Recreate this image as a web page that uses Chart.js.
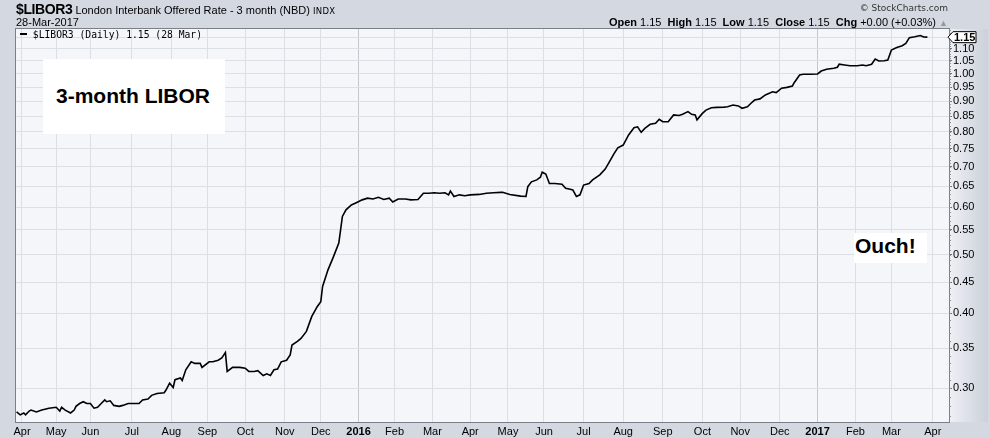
<!DOCTYPE html>
<html>
<head>
<meta charset="utf-8">
<script src="https://cdn.jsdelivr.net/npm/chart.js@4.4.1/dist/chart.umd.min.js"></script>
<style>
  html, body { margin: 0; padding: 0; background: #d4d9e1; }
  #wrap { position: relative; width: 990px; height: 438px; overflow: hidden; }
  #wrap div { position: absolute; white-space: nowrap; color: #000; font-family: "Liberation Sans", Arial, sans-serif; line-height: 1; }
  .box { background: #fff; }
</style>
</head>
<body>
<div id="wrap">
  <canvas id="liborChart"></canvas>
  <div style="left:16px;top:1.5px;font-size:11px"><b style="font-size:14px;letter-spacing:-0.4px">$LIBOR3</b> London Interbank Offered Rate - 3 month (NBD) <span style="font-family:'DejaVu Sans';font-size:8.5px;letter-spacing:0.3px">INDX</span></div>
  <div style="left:16px;top:16.7px;font-size:11px">28-Mar-2017</div>
  <div style="right:42px;top:4px;font-family:'DejaVu Sans';font-size:9px;color:#333">&#169; StockCharts.com</div>
  <div style="right:42px;top:17.4px;font-size:11px"><b>Open</b> 1.15 &nbsp;<b>High</b> 1.15 &nbsp;<b>Low</b> 1.15 &nbsp;<b>Close</b> 1.15 &nbsp;<b>Chg</b> +0.00 (+0.03%) <span style="color:#999;font-size:9px">&#9650;</span></div>
  <div style="left:20px;top:29.5px;font-family:'DejaVu Sans Mono';font-size:9.7px"><b style="display:inline-block;width:7px;height:2px;background:#000;vertical-align:3px"></b> $LIBOR3 (Daily) 1.15 (28 Mar)</div>
  <div class="box" style="left:43px;top:59px;width:182px;height:75px"></div>
  <div style="left:56px;top:84.5px;font-size:21px;font-weight:bold">3-month LIBOR</div>
  <div class="box" style="left:854px;top:233px;width:73px;height:30px"></div>
  <div style="left:855px;top:234.5px;font-size:21px;font-weight:bold">Ouch!</div>
</div>
<script>
// trading-day index (0 = 1 Apr 2015) and 3-month LIBOR fixings
const days = [-3, -1, 1, 2, 4, 5, 8, 11, 15, 19, 21, 22, 24, 27, 29, 30, 32, 34, 36, 38,
  40, 42, 44, 46, 47, 49, 51, 54, 56, 59, 62, 65, 67, 70, 72, 75, 79, 80, 82, 84,
  85, 88, 89, 91, 94, 96, 99, 100, 104, 106, 109, 111, 113, 114, 117, 121, 124, 126, 129, 131,
  134, 136, 138, 140, 142, 144, 147, 149, 150, 153, 155, 158, 161, 164, 166, 167, 170, 173, 176, 177,
  178, 180, 183, 186, 189, 192, 195, 198, 201, 204, 206, 209, 213, 216, 220, 223, 226, 229, 232, 235,
  237, 238, 240, 243, 246, 249, 254, 258, 262, 266, 267, 271, 277, 280, 281, 283, 286, 288, 289, 291,
  293, 296, 300, 302, 304, 306, 308, 310, 312, 315, 317, 321, 324, 326, 329, 331, 334, 337, 340, 342,
  344, 346, 349, 352, 354, 356, 359, 362, 365, 367, 370, 372, 374, 375, 378, 380, 383, 386, 390, 392,
  395, 398, 400, 403, 405, 407, 410, 413, 417, 419, 422, 425, 428, 429, 432, 434, 438, 442, 444, 447,
  451, 453, 454, 457, 460, 464, 467, 469, 472, 474, 476, 479, 481, 483, 486, 489, 491, 493, 496, 499,
  501, 503]
const libor = [0.274, 0.271, 0.273, 0.271, 0.275, 0.276, 0.274, 0.276, 0.278, 0.279, 0.275, 0.279, 0.276, 0.273, 0.276, 0.280, 0.283, 0.285, 0.283, 0.283,
  0.278, 0.279, 0.283, 0.287, 0.285, 0.286, 0.281, 0.280, 0.281, 0.283, 0.283, 0.283, 0.287, 0.288, 0.292, 0.294, 0.295, 0.298, 0.306, 0.301,
  0.310, 0.312, 0.309, 0.322, 0.332, 0.330, 0.330, 0.325, 0.332, 0.332, 0.334, 0.337, 0.344, 0.320, 0.325, 0.325, 0.324, 0.320, 0.320, 0.321,
  0.315, 0.317, 0.315, 0.322, 0.323, 0.332, 0.334, 0.341, 0.354, 0.359, 0.363, 0.373, 0.395, 0.410, 0.418, 0.443, 0.472, 0.496, 0.523, 0.550,
  0.579, 0.594, 0.605, 0.611, 0.617, 0.621, 0.619, 0.623, 0.618, 0.621, 0.612, 0.619, 0.619, 0.617, 0.618, 0.633, 0.633, 0.634, 0.633, 0.634,
  0.629, 0.638, 0.625, 0.629, 0.627, 0.629, 0.630, 0.633, 0.634, 0.635, 0.635, 0.630, 0.626, 0.625, 0.649, 0.661, 0.666, 0.673, 0.686, 0.681,
  0.657, 0.657, 0.655, 0.645, 0.643, 0.641, 0.625, 0.629, 0.653, 0.657, 0.666, 0.679, 0.694, 0.711, 0.737, 0.753, 0.761, 0.791, 0.813, 0.816,
  0.799, 0.811, 0.824, 0.827, 0.840, 0.832, 0.832, 0.854, 0.852, 0.856, 0.865, 0.856, 0.854, 0.838, 0.859, 0.870, 0.878, 0.879, 0.880, 0.881,
  0.887, 0.884, 0.876, 0.881, 0.893, 0.904, 0.908, 0.922, 0.933, 0.930, 0.946, 0.949, 0.954, 0.966, 0.995, 0.998, 0.998, 0.999, 1.010, 1.017,
  1.021, 1.025, 1.037, 1.034, 1.031, 1.031, 1.034, 1.031, 1.037, 1.058, 1.050, 1.051, 1.054, 1.095, 1.105, 1.113, 1.123, 1.148, 1.152, 1.157,
  1.151, 1.150]

// month ticks on the trading-day axis
const monthTicks = [0, 19, 38, 61, 83, 103, 124, 146, 166, 187, 207, 228, 249, 270, 290, 312, 334, 356, 378, 399, 421, 442, 463, 483, 506]
const monthLabels = ['Apr', 'May', 'Jun', 'Jul', 'Aug', 'Sep', 'Oct', 'Nov', 'Dec', '2016', 'Feb', 'Mar',
  'Apr', 'May', 'Jun', 'Jul', 'Aug', 'Sep', 'Oct', 'Nov', 'Dec', '2017', 'Feb', 'Mar', 'Apr']
const priceTicks = [0.30, 0.35, 0.40, 0.45, 0.50, 0.55, 0.60, 0.65, 0.70, 0.75, 0.80, 0.85, 0.90, 0.95, 1.00, 1.05, 1.10, 1.15]
const lastValue = 1.15

const isYear = (i) => /^\d{4}$/.test(monthLabels[i])

// panel backgrounds, frame, minor ticks and the last value tag
const panelPlugin = {
  id: 'panel',
  beforeDraw(chart) {
    const {ctx, chartArea: a, width, height} = chart
    ctx.save()
    ctx.fillStyle = '#d4d9e1'
    ctx.fillRect(0, 0, width, height)
    const g = ctx.createLinearGradient(a.right, 0, width, 0)
    g.addColorStop(0, '#eef0f4')
    g.addColorStop(1, '#c9cfd9')
    ctx.fillStyle = g
    ctx.fillRect(a.right, a.top, width - a.right - 2, a.bottom - a.top)
    ctx.fillStyle = '#f5f6fa'
    ctx.fillRect(a.left, a.top, a.right - a.left, a.bottom - a.top)
    ctx.restore()
  },
  afterDraw(chart) {
    const {ctx, chartArea: a} = chart
    const y = chart.scales.y
    ctx.save()
    ctx.strokeStyle = '#7b7f87'
    ctx.lineWidth = 1
    ctx.strokeRect(a.left - 0.5, a.top - 0.5, a.right - a.left + 1, a.bottom - a.top + 1)
    // minor ticks every 0.01
    ctx.strokeStyle = '#8a8e96'
    for (let k = 27; k <= 118; k++) {
      const py = Math.round(y.getPixelForValue(k / 100)) + 0.5
      if (py < a.top || py > a.bottom) continue
      ctx.beginPath()
      ctx.moveTo(a.right, py)
      ctx.lineTo(a.right + 2, py)
      ctx.stroke()
    }
    // last value tag
    const ty = y.getPixelForValue(lastValue)
    const x0 = a.right - 1
    ctx.beginPath()
    ctx.moveTo(x0, ty)
    ctx.lineTo(x0 + 5, ty - 5.5)
    ctx.lineTo(x0 + 28, ty - 5.5)
    ctx.lineTo(x0 + 28, ty + 5.5)
    ctx.lineTo(x0 + 5, ty + 5.5)
    ctx.closePath()
    ctx.fillStyle = '#fff'
    ctx.fill()
    ctx.strokeStyle = '#000'
    ctx.stroke()
    ctx.fillStyle = '#000'
    ctx.font = 'bold 11px "Liberation Sans", Arial, sans-serif'
    ctx.textBaseline = 'middle'
    ctx.fillText(lastValue.toFixed(2), x0 + 6, ty + 0.5)
    ctx.restore()
  }
}

const ch = document.getElementById('liborChart')

new Chart(ch, {
  type: 'line',
  data: {
    datasets: [{
      label: '$LIBOR3',
      data: days.map((d, i) => ({x: d, y: libor[i]})),
      borderColor: '#000',
      borderWidth: 1.6,
      pointRadius: 0,
      tension: 0,
      fill: false,
    }],
  },
  options: {
    responsive: true,
    maintainAspectRatio: false,
    animation: false,
    layout: {
      padding: {left: 16, top: 29, right: 0, bottom: 0}
    },
    plugins: {
      legend: {display: false},
      tooltip: {enabled: false},
    },
    scales: {
      x: {
        type: 'linear',
        min: -3.33,
        max: 515,
        afterBuildTicks: (scale) => { scale.ticks = monthTicks.map(v => ({value: v})) },
        afterFit: (scale) => { scale.height = 16 },
        border: {display: false},
        grid: {
          drawTicks: false,
          color: (c) => (c.tick && monthTicks.indexOf(c.tick.value) >= 0 && isYear(monthTicks.indexOf(c.tick.value))) ? '#c3c7cf' : '#dcdfe6',
        },
        ticks: {
          autoSkip: false,
          maxRotation: 0,
          padding: 3,
          color: '#000',
          font: (c) => ({family: '"Liberation Sans", Arial, sans-serif', size: 11, weight: isYear(c.index) ? 'bold' : 'normal'}),
          callback: (v, i) => monthLabels[i],
        },
      },
      y: {
        type: 'logarithmic',
        position: 'right',
        min: 0.2637,
        max: 1.1865,
        afterBuildTicks: (scale) => { scale.ticks = priceTicks.map(v => ({value: v})) },
        afterFit: (scale) => { scale.width = 41 },
        border: {display: false},
        grid: {
          color: '#dcdfe6',
          tickColor: '#6d7179',
          tickLength: 3,
        },
        ticks: {
          padding: 1,
          color: '#000',
          font: {family: '"Liberation Sans", Arial, sans-serif', size: 11},
          callback: (v) => Number(v).toFixed(2),
        },
      },
    },
  },
  plugins: [panelPlugin],
})
</script>
</body>
</html>
